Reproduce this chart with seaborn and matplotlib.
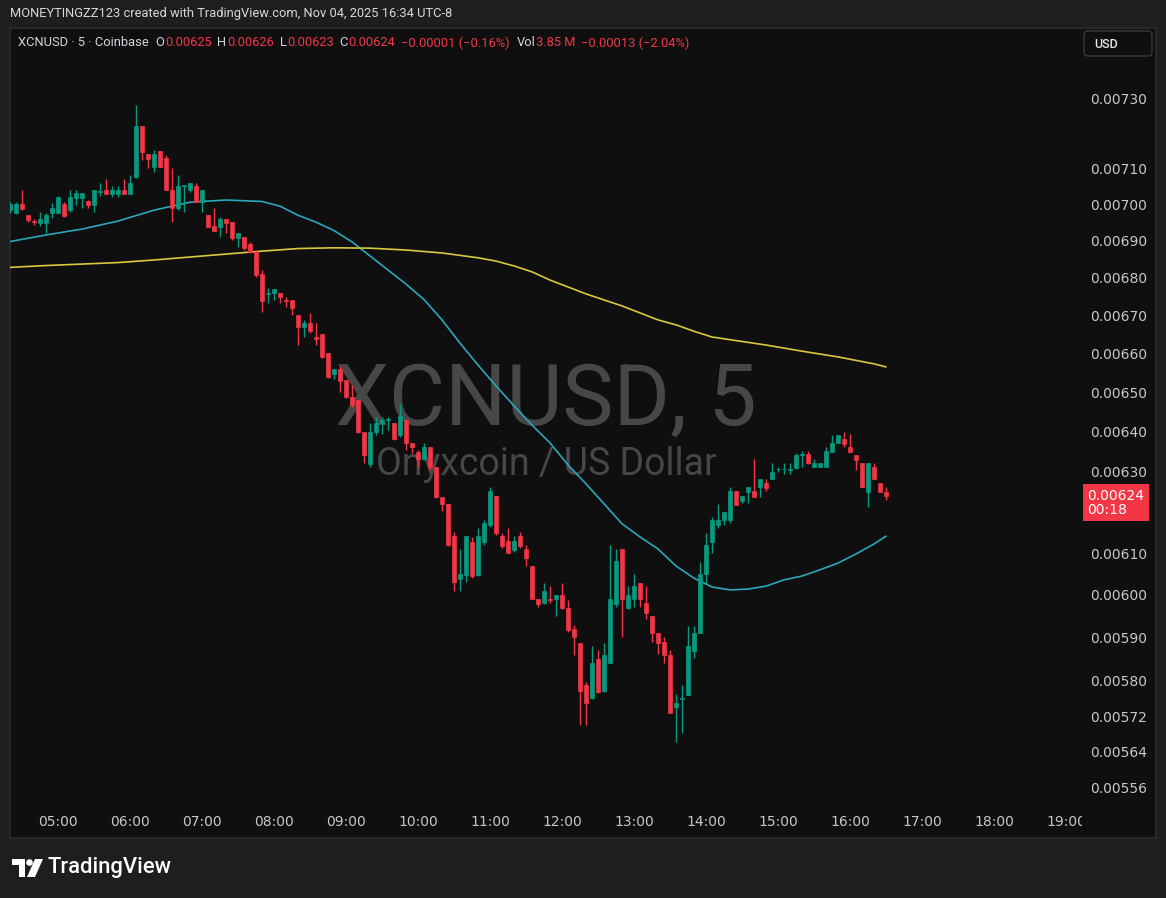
import numpy as np
import pandas as pd
import matplotlib
matplotlib.use("Agg")
import matplotlib.pyplot as plt
import matplotlib.dates as mdates
from matplotlib.patches import Rectangle, FancyBboxPatch, Polygon, Circle
from matplotlib.transforms import Bbox, IdentityTransform
from matplotlib.ticker import FuncFormatter, NullLocator
import seaborn as sns

# XCNUSD 5 minute candles, first bar 04:20
open_ = [0.006984, 0.006976, 0.007001, 0.006971, 0.006954, 0.006949, 0.006949, 0.006976, 0.006976, 0.007001,
         0.006984, 0.007018, 0.007018, 0.007009, 0.006998, 0.007035, 0.007040, 0.007029, 0.007029, 0.007040,
         0.007029, 0.007076, 0.007220, 0.007141, 0.007104, 0.007149, 0.007129, 0.007040, 0.006990, 0.007051,
         0.007040, 0.007051, 0.007006, 0.006971, 0.006940, 0.006938, 0.006960, 0.006951, 0.006908, 0.006910,
         0.006891, 0.006870, 0.006810, 0.006757, 0.006759, 0.006759, 0.006741, 0.006741, 0.006701, 0.006669,
         0.006680, 0.006642, 0.006651, 0.006601, 0.006547, 0.006560, 0.006532, 0.006488, 0.006480, 0.006398,
         0.006318, 0.006398, 0.006421, 0.006430, 0.006421, 0.006391, 0.006429, 0.006371, 0.006348, 0.006331,
         0.006361, 0.006311, 0.006237, 0.006220, 0.006141, 0.006038, 0.006048, 0.006127, 0.006048, 0.006127,
         0.006168, 0.006239, 0.006141, 0.006130, 0.006107, 0.006141, 0.006110, 0.006069, 0.005991, 0.005981,
         0.005991, 0.005991, 0.006000, 0.005969, 0.005920, 0.005887, 0.005791, 0.005761, 0.005850, 0.005777,
         0.005841, 0.005979, 0.006110, 0.005969, 0.005991, 0.006029, 0.005981, 0.005951, 0.005911, 0.005890,
         0.005860, 0.005741, 0.005759, 0.005768, 0.005869, 0.005911, 0.006050, 0.006127, 0.006168, 0.006180,
         0.006180, 0.006251, 0.006227, 0.006249, 0.006251, 0.006261, 0.006271, 0.006281, 0.006306, 0.006306,
         0.006304, 0.006308, 0.006342, 0.006343, 0.006311, 0.006311, 0.006311, 0.006348, 0.006371, 0.006381,
         0.006361, 0.006341, 0.006321, 0.006249, 0.006311, 0.006271, 0.006250]
high = [0.007006, 0.007006, 0.007040, 0.006971, 0.006960, 0.006979, 0.006976, 0.007004, 0.007023, 0.007006,
        0.007040, 0.007040, 0.007032, 0.007012, 0.007040, 0.007059, 0.007071, 0.007051, 0.007051, 0.007071,
        0.007082, 0.007280, 0.007220, 0.007141, 0.007152, 0.007149, 0.007138, 0.007101, 0.007082, 0.007054,
        0.007059, 0.007059, 0.007040, 0.006971, 0.006990, 0.006965, 0.006960, 0.006951, 0.006921, 0.006910,
        0.006897, 0.006875, 0.006821, 0.006773, 0.006770, 0.006759, 0.006749, 0.006741, 0.006701, 0.006688,
        0.006706, 0.006680, 0.006651, 0.006601, 0.006560, 0.006567, 0.006532, 0.006519, 0.006480, 0.006398,
        0.006421, 0.006437, 0.006437, 0.006437, 0.006421, 0.006470, 0.006429, 0.006371, 0.006353, 0.006371,
        0.006361, 0.006311, 0.006237, 0.006220, 0.006151, 0.006110, 0.006141, 0.006139, 0.006161, 0.006180,
        0.006261, 0.006239, 0.006149, 0.006161, 0.006141, 0.006151, 0.006119, 0.006069, 0.005991, 0.006029,
        0.006021, 0.006000, 0.006029, 0.005988, 0.005929, 0.005887, 0.005797, 0.005880, 0.005871, 0.005887,
        0.006119, 0.006110, 0.006110, 0.006021, 0.006050, 0.006029, 0.006021, 0.005951, 0.005911, 0.005901,
        0.005871, 0.005770, 0.005791, 0.005927, 0.005927, 0.006079, 0.006149, 0.006188, 0.006220, 0.006200,
        0.006261, 0.006251, 0.006239, 0.006261, 0.006331, 0.006281, 0.006281, 0.006321, 0.006311, 0.006321,
        0.006321, 0.006346, 0.006351, 0.006351, 0.006331, 0.006321, 0.006361, 0.006391, 0.006391, 0.006398,
        0.006393, 0.006341, 0.006321, 0.006321, 0.006321, 0.006271, 0.006260]
low = [0.006976, 0.006973, 0.006984, 0.006951, 0.006943, 0.006940, 0.006921, 0.006962, 0.006976, 0.006965,
       0.006979, 0.006998, 0.006990, 0.006990, 0.006979, 0.007023, 0.007029, 0.007021, 0.007021, 0.007029,
       0.007029, 0.007073, 0.007124, 0.007101, 0.007090, 0.007104, 0.007040, 0.006951, 0.006984, 0.006979,
       0.007034, 0.007006, 0.006979, 0.006938, 0.006927, 0.006910, 0.006921, 0.006902, 0.006883, 0.006875,
       0.006867, 0.006802, 0.006709, 0.006733, 0.006741, 0.006733, 0.006722, 0.006701, 0.006622, 0.006643,
       0.006654, 0.006622, 0.006588, 0.006537, 0.006534, 0.006500, 0.006485, 0.006462, 0.006396, 0.006321,
       0.006311, 0.006391, 0.006393, 0.006404, 0.006378, 0.006386, 0.006353, 0.006346, 0.006311, 0.006328,
       0.006303, 0.006234, 0.006202, 0.006117, 0.006010, 0.006010, 0.006031, 0.006040, 0.006045, 0.006119,
       0.006163, 0.006144, 0.006112, 0.006100, 0.006102, 0.006112, 0.006069, 0.005991, 0.005972, 0.005979,
       0.005981, 0.005951, 0.005967, 0.005913, 0.005860, 0.005700, 0.005700, 0.005759, 0.005773, 0.005775,
       0.005841, 0.005972, 0.005901, 0.005967, 0.005972, 0.005972, 0.005944, 0.005890, 0.005862, 0.005841,
       0.005727, 0.005662, 0.005682, 0.005768, 0.005853, 0.005911, 0.006026, 0.006100, 0.006161, 0.006168,
       0.006173, 0.006217, 0.006222, 0.006222, 0.006237, 0.006237, 0.006251, 0.006281, 0.006299, 0.006294,
       0.006294, 0.006306, 0.006311, 0.006318, 0.006311, 0.006311, 0.006311, 0.006348, 0.006371, 0.006361,
       0.006348, 0.006303, 0.006261, 0.006212, 0.006281, 0.006249, 0.006230]
close = [0.007001, 0.007001, 0.006987, 0.006957, 0.006951, 0.006960, 0.006971, 0.006990, 0.007021, 0.006968,
         0.007021, 0.007032, 0.007032, 0.006998, 0.007040, 0.007038, 0.007029, 0.007040, 0.007040, 0.007029,
         0.007059, 0.007220, 0.007147, 0.007127, 0.007141, 0.007104, 0.007040, 0.006990, 0.007051, 0.007054,
         0.007059, 0.007006, 0.007040, 0.006938, 0.006927, 0.006960, 0.006949, 0.006908, 0.006921, 0.006881,
         0.006870, 0.006808, 0.006738, 0.006759, 0.006770, 0.006749, 0.006738, 0.006719, 0.006669, 0.006680,
         0.006659, 0.006639, 0.006591, 0.006539, 0.006560, 0.006529, 0.006488, 0.006467, 0.006398, 0.006341,
         0.006398, 0.006421, 0.006429, 0.006432, 0.006381, 0.006439, 0.006371, 0.006361, 0.006331, 0.006361,
         0.006311, 0.006237, 0.006220, 0.006119, 0.006031, 0.006050, 0.006141, 0.006045, 0.006141, 0.006173,
         0.006251, 0.006149, 0.006117, 0.006100, 0.006130, 0.006117, 0.006088, 0.005991, 0.005979, 0.006010,
         0.005989, 0.006000, 0.005969, 0.005918, 0.005901, 0.005777, 0.005750, 0.005841, 0.005775, 0.005860,
         0.005991, 0.006081, 0.005991, 0.006000, 0.006021, 0.005991, 0.005958, 0.005911, 0.005887, 0.005860,
         0.005727, 0.005750, 0.005760, 0.005880, 0.005911, 0.006050, 0.006119, 0.006180, 0.006180, 0.006200,
         0.006251, 0.006217, 0.006239, 0.006261, 0.006237, 0.006281, 0.006259, 0.006298, 0.006307, 0.006307,
         0.006305, 0.006341, 0.006343, 0.006321, 0.006321, 0.006321, 0.006351, 0.006371, 0.006391, 0.006368,
         0.006348, 0.006328, 0.006261, 0.006321, 0.006281, 0.006249, 0.006240]

# moving averages
fast_times = ["04:20", "04:50", "05:20", "05:50", "06:20", "06:50", "07:20", "07:50", "08:05", "08:20",
              "08:35", "08:50", "09:05", "09:20", "09:35", "09:50", "10:05", "10:20", "10:35", "10:50",
              "11:05", "11:20", "11:35", "11:50", "12:05", "12:20", "12:35", "12:50", "13:05", "13:20",
              "13:35", "13:50", "14:05", "14:20", "14:35", "14:50", "15:05", "15:20", "15:35", "15:50",
              "16:05", "16:20", "16:30"]
fast_ma = [0.006898, 0.006916, 0.006932, 0.006954, 0.006984, 0.007006, 0.007012, 0.007008, 0.006995, 0.006970,
           0.006951, 0.006928, 0.006897, 0.006859, 0.006821, 0.006783, 0.006742, 0.006688, 0.006627, 0.006570,
           0.006516, 0.006465, 0.006416, 0.006371, 0.006316, 0.006269, 0.006220, 0.006171, 0.006139, 0.006110,
           0.006069, 0.006040, 0.006019, 0.006012, 0.006014, 0.006021, 0.006036, 0.006045, 0.006060, 0.006076,
           0.006098, 0.006122, 0.006141]
slow_times = ["04:20", "04:50", "05:20", "05:50", "06:20", "06:50", "07:20", "07:50", "08:20", "08:50",
              "09:20", "09:50", "10:20", "10:50", "11:05", "11:20", "11:35", "11:50", "12:20", "12:50",
              "13:20", "13:35", "13:50", "14:05", "14:20", "14:50", "15:20", "15:50", "16:20", "16:30"]
slow_ma = [0.006828, 0.006833, 0.006837, 0.006841, 0.006848, 0.006856, 0.006864, 0.006872, 0.006879, 0.006881,
           0.006880, 0.006875, 0.006867, 0.006854, 0.006845, 0.006832, 0.006816, 0.006794, 0.006757, 0.006725,
           0.006688, 0.006675, 0.006658, 0.006643, 0.006636, 0.006622, 0.006606, 0.006591, 0.006573, 0.006565]

price_ticks = [0.00730, 0.00710, 0.00700, 0.00690, 0.00680, 0.00670, 0.00660, 0.00650, 0.00640, 0.00630,
               0.00610, 0.00600, 0.00590, 0.00580, 0.00572, 0.00564, 0.00556]

DAY = "2025-11-04 "
GREEN = "#089981"
RED = "#f23645"
W, H = 1166, 898
AXFONT = ["DejaVu Sans"]

sns.set_theme(style="dark", rc={"figure.facecolor": "#1e1e1e", "axes.facecolor": "#0f0f0f",
                                "axes.grid": False, "savefig.facecolor": "#1e1e1e"})
plt.rcParams["font.family"] = ["Roboto", "DejaVu Sans"]

fig = plt.figure(figsize=(W / 100, H / 100), dpi=100)
pix = IdentityTransform()

# chart panel, kept behind the axes
fig.patches.append(Rectangle((10, H - 838), 1146, 810, transform=pix, facecolor="#0f0f0f",
                             edgecolor="#2c2c2c", lw=1.2, zorder=-10))

ax = fig.add_axes([10 / W, 1 - 800 / H, 1072 / W, 772 / H])
ax.set_zorder(1)
ax.set_facecolor("none")
for s in ax.spines.values():
    s.set_visible(False)

o = np.array(open_)
h = np.array(high)
l = np.array(low)
c = np.array(close)
t = mdates.date2num(pd.date_range(DAY + "04:20", periods=len(c), freq="5min"))
cols = np.where(c >= o, GREEN, RED)

# watermark
ax.text(0.5, 0.486, "XCNUSD, 5", transform=ax.transAxes, ha="center", va="baseline",
        fontsize=62, color="#474747", zorder=0)
ax.text(0.5, 0.421, "Onyxcoin / US Dollar", transform=ax.transAxes, ha="center", va="baseline",
        fontsize=27, color="#474747", zorder=0)

# moving averages
ft = mdates.date2num(pd.to_datetime([DAY + s for s in fast_times]))
st = mdates.date2num(pd.to_datetime([DAY + s for s in slow_times]))
sns.lineplot(x=ft, y=fast_ma, ax=ax, color="#2aa7bb", lw=1.2, sort=False, estimator=None, zorder=1)
sns.lineplot(x=st, y=slow_ma, ax=ax, color="#d8c93c", lw=1.2, sort=False, estimator=None, zorder=1)

# candles
ax.vlines(t, l, h, colors=cols, lw=1.0, zorder=2)
ax.bar(t, np.abs(c - o), bottom=np.minimum(o, c), width=3.5 / 1440, color=cols,
       edgecolor=cols, lw=0.5, zorder=3)

ax.set_yscale("log")
ax.set_ylim(0.0055337, 0.0075045)
ax.set_xlim(t[0], t[0] + 1072 / 72 / 24)
ax.yaxis.set_minor_locator(NullLocator())
ax.set_yticks(price_ticks)
ax.yaxis.set_major_formatter(FuncFormatter(lambda v, p: f"{v:.5f}"))
ax.yaxis.tick_right()
ax.tick_params(axis="y", length=0, pad=6, labelsize=10, labelcolor="#c8c8c8")
for lbl in ax.get_yticklabels():
    lbl.set_family(AXFONT)

hours = mdates.date2num(pd.date_range(DAY + "05:00", DAY + "19:00", freq="1h"))
ax.set_xticks(hours)
ax.xaxis.set_major_formatter(mdates.DateFormatter("%H:%M"))
ax.tick_params(axis="x", length=0, pad=10.5, labelsize=10, labelcolor="#c8c8c8")
for lbl in ax.get_xticklabels():
    lbl.set_family(AXFONT)
    lbl.set_clip_box(Bbox.from_extents(0, 0, 1082, H))
    lbl.set_clip_on(True)
ax.set_xlabel("")
ax.set_ylabel("")

# last price tag
ax.annotate(f"{close[-1]:.5f}\n00:18", xy=(1, close[-1]), xycoords=("axes fraction", "data"),
            xytext=(4, 5), textcoords="offset points", ha="left", va="top", fontsize=10,
            family=AXFONT, color="white", linespacing=1.0, annotation_clip=False,
            bbox=dict(boxstyle="square,pad=0.33", fc=RED, ec="none"))

# currency button
fig.patches.append(FancyBboxPatch((1084, H - 56), 68, 25, boxstyle="round,pad=0,rounding_size=4",
                                  transform=pix, facecolor="#0f0f0f", edgecolor="#3a3a3a", lw=1))
fig.text(1094 / W, 1 - 44 / H, "USD", fontsize=9, color="#e6e6e6", va="center", fontweight="medium")

# header line
fig.text(10 / W, 1 - 13 / H, "MONEYTINGZZ123 created with TradingView.com, Nov 04, 2025 16:34 UTC-8",
         fontsize=9.3, color="#d8d8d8", va="center")

# legend row, each piece placed after the previous one
LG = "#d1d4dc"
FS = 9.3
parts = [("O", LG, 5), (f"{open_[-1]:.5f}", RED, 0.5),
         ("H", LG, 4), (f"{high[-1]:.5f}", RED, 0.5),
         ("L", LG, 4), (f"{low[-1]:.5f}", RED, 0.5),
         ("C", LG, 4), (f"{close[-1]:.5f}", RED, 0.5),
         ("\u22120.00001 (\u22120.16%)", RED, 4),
         ("Vol", LG, 5), ("3.85 M", RED, 0.5),
         ("\u22120.00013 (\u22122.04%)", RED, 4)]
last = ax.text(8 / 1072, 1 - 15 / 772, "XCNUSD · 5 · Coinbase", transform=ax.transAxes,
               fontsize=FS, color=LG, va="center", zorder=5)
for txt, col, gap in parts:
    last = ax.annotate(txt, xy=(1, 0.5), xycoords=last, xytext=(gap, 0),
                       textcoords="offset points", va="center", ha="left",
                       fontsize=FS, color=col, annotation_clip=False, zorder=5)

# TradingView logo
fig.patches.append(Polygon([(12, H - 859), (25, H - 859), (25, H - 877), (19, H - 877), (19, H - 865),
                            (12, H - 865)], closed=True, transform=pix, fc="white", ec="none"))
fig.patches.append(Circle((29.5, H - 862.5), 3.3, transform=pix, fc="white", ec="none"))
fig.patches.append(Polygon([(35, H - 859), (43, H - 859), (35, H - 877), (27, H - 877)], closed=True,
                           transform=pix, fc="white", ec="none"))
fig.text(48 / W, 1 - 868 / H, "TradingView", fontsize=15.8, color="white", va="center", fontweight="medium")

fig.savefig("out.png", dpi=100)
